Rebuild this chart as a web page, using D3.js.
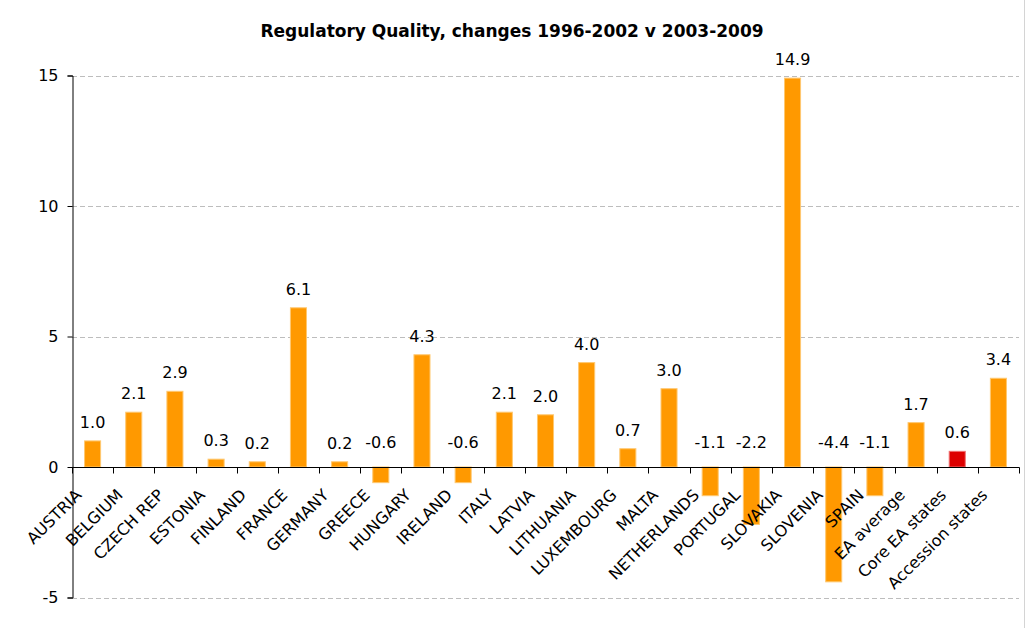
<!DOCTYPE html>
<html>
<head>
<meta charset="utf-8">
<script src="https://cdn.jsdelivr.net/npm/d3@7"></script>
<style>
body { margin: 0; background: #fff; }
svg { display: block; font-family: Verdana, "DejaVu Sans", sans-serif; }
</style>
</head>
<body>
<svg width="1026" height="628"></svg>
<script>
var countries = ["AUSTRIA", "BELGIUM", "CZECH REP", "ESTONIA", "FINLAND", "FRANCE", "GERMANY",
    "GREECE", "HUNGARY", "IRELAND", "ITALY", "LATVIA", "LITHUANIA", "LUXEMBOURG", "MALTA",
    "NETHERLANDS", "PORTUGAL", "SLOVAKIA", "SLOVENIA", "SPAIN", "EA average", "Core EA states",
    "Accession states"];
var changes = [1.0, 2.1, 2.9, 0.3, 0.2, 6.1, 0.2, -0.6, 4.3, -0.6, 2.1, 2.0, 4.0, 0.7, 3.0,
    -1.1, -2.2, 14.9, -4.4, -1.1, 1.7, 0.6, 3.4];
var highlighted = ["Core EA states"];
var yTicks = [-5, 0, 5, 10, 15];

var svg = d3.select("svg");
var plotLeft = 72, plotRight = 1019, plotTop = 75.5, plotBottom = 597.5;

var x = d3.scaleBand()
    .domain(countries)
    .range([plotLeft, plotRight])
    .paddingInner(0.61)
    .paddingOuter(0.305);
var y = d3.scaleLinear()
    .domain([-5, 15])
    .range([plotBottom, plotTop]);

// chart border on the right
svg.append("line")
    .attr("x1", 1024.5).attr("x2", 1024.5)
    .attr("y1", 0).attr("y2", 628)
    .attr("stroke", "#d4d4d4");

svg.append("text")
    .attr("x", 512).attr("y", 37)
    .attr("text-anchor", "middle")
    .style("font-size", "17px")
    .style("font-weight", "bold")
    .text("Regulatory Quality, changes 1996-2002 v 2003-2009");

// gridlines
svg.append("g").selectAll("line")
    .data(yTicks.filter(function(d) { return d != 0; }))
    .enter().append("line")
    .attr("x1", plotLeft).attr("x2", plotRight)
    .attr("y1", function(d) { return Math.round(y(d)) + 0.5; })
    .attr("y2", function(d) { return Math.round(y(d)) + 0.5; })
    .attr("stroke", "#bdbdbd")
    .attr("stroke-dasharray", "5,3");

// y axis
var yAxis = svg.append("g")
    .attr("transform", "translate(" + (plotLeft + 0.5) + ",0)")
    .call(d3.axisLeft(y).tickValues(yTicks).tickSize(5).tickPadding(9)
        .tickFormat(function(d) { return String(d); }));
yAxis.select(".domain").attr("stroke", "#000");
yAxis.selectAll(".tick line").attr("stroke", "#000");
yAxis.selectAll("text").style("font-size", "16px").style("font-family", "Verdana, 'DejaVu Sans', sans-serif").attr("fill", "#000");

// bars
svg.append("g").selectAll("rect")
    .data(countries)
    .enter().append("rect")
    .attr("x", function(d) { return x(d); })
    .attr("width", x.bandwidth())
    .attr("y", function(d, i) { return y(Math.max(0, changes[i])); })
    .attr("height", function(d, i) { return Math.abs(y(changes[i]) - y(0)); })
    .attr("fill", function(d) { return highlighted.indexOf(d) >= 0 ? "#dd0000" : "#ff9900"; })
    .attr("stroke", function(d) { return highlighted.indexOf(d) >= 0 ? "#f07070" : "#ffc870"; })
    .attr("stroke-width", 1);

// x axis at zero, ticks between categories
var zeroY = Math.round(y(0)) + 0.5;
svg.append("line")
    .attr("x1", plotLeft).attr("x2", plotRight + 0.5)
    .attr("y1", zeroY).attr("y2", zeroY)
    .attr("stroke", "#000");
var step = x.step();
svg.append("g").selectAll("line")
    .data(d3.range(countries.length + 1))
    .enter().append("line")
    .attr("x1", function(i) { return Math.round(plotLeft + i * step) + 0.5; })
    .attr("x2", function(i) { return Math.round(plotLeft + i * step) + 0.5; })
    .attr("y1", zeroY).attr("y2", zeroY + 6)
    .attr("stroke", "#000");

// value labels
svg.append("g").selectAll("text")
    .data(countries)
    .enter().append("text")
    .attr("x", function(d) { return x(d) + x.bandwidth() / 2; })
    .attr("y", function(d, i) { return changes[i] >= 0 ? y(changes[i]) - 13 : y(0) - 19; })
    .attr("text-anchor", "middle")
    .style("font-size", "16px")
    .text(function(d, i) { return changes[i].toFixed(1); });

// category labels
svg.append("g").selectAll("text")
    .data(countries)
    .enter().append("text")
    .attr("transform", function(d) {
        return "translate(" + (x(d) + x.bandwidth() / 2 - 10) + "," + 496 + ") rotate(-45)";
    })
    .attr("text-anchor", "end")
    .style("font-size", "16px")
    .text(function(d) { return d; });
</script>
</body>
</html>
